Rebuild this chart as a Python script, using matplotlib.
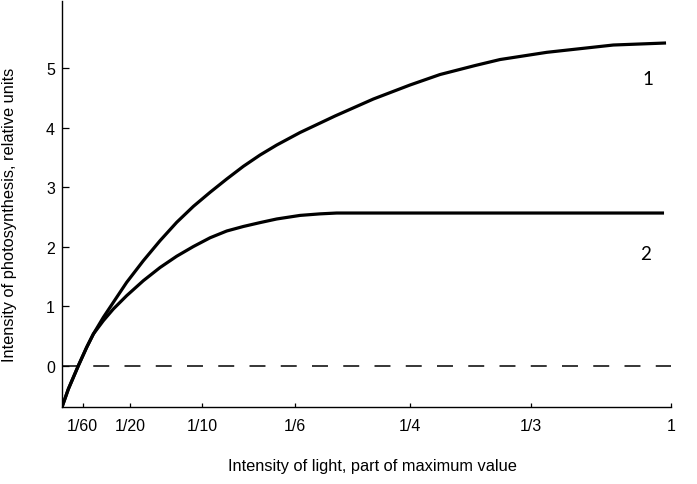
import matplotlib
matplotlib.use("Agg")
import matplotlib.pyplot as plt

# tick labels along the light-intensity axis and where they sit (axis runs 0..10)
x_tick_labels = ["1/60", "1/20", "1/10", "1/6", "1/4", "1/3", "1"]
x_tick_pos = [0.34, 1.12, 2.30, 3.82, 5.72, 7.71, 10.0]
y_ticks = [0, 1, 2, 3, 4, 5]

# curve 1
curve1_x = [0.00, 0.104, 0.268, 0.405, 0.515, 0.679, 0.843, 1.062, 1.336, 1.610,
            1.884, 2.158, 2.432, 2.706, 2.979, 3.253, 3.527, 3.910, 4.485, 5.114,
            5.717, 6.210, 6.785, 7.196, 7.963, 9.057, 9.923]
curve1_y = [-0.694, -0.392, 0.000, 0.309, 0.533, 0.813, 1.065, 1.401, 1.765, 2.101,
            2.410, 2.678, 2.914, 3.138, 3.351, 3.541, 3.709, 3.919, 4.197, 4.482,
            4.718, 4.894, 5.045, 5.146, 5.267, 5.390, 5.424]

# curve 2
curve2_x = [0.00, 0.104, 0.268, 0.405, 0.515, 0.679, 0.843, 1.062, 1.336, 1.610,
            1.884, 2.158, 2.432, 2.706, 2.979, 3.253, 3.527, 3.910, 4.239, 4.513, 9.890]
curve2_y = [-0.694, -0.392, 0.000, 0.309, 0.533, 0.757, 0.953, 1.177, 1.429, 1.650,
            1.840, 2.003, 2.150, 2.264, 2.340, 2.405, 2.466, 2.526, 2.552, 2.566, 2.566]

plt.rcParams['font.family'] = ['Liberation Sans', 'DejaVu Sans']
plt.rcParams['lines.scale_dashes'] = False

fig = plt.figure(figsize=(6.97, 4.85), dpi=100)
ax = fig.add_axes([0.0890, 0.1588, 0.8733, 0.8371])

ax.plot(curve1_x, curve1_y, color="black", lw=2.3, solid_capstyle="butt",
        solid_joinstyle="round")
ax.plot(curve2_x, curve2_y, color="black", lw=2.3, solid_capstyle="butt",
        solid_joinstyle="round")
zero_line, = ax.plot([0, 10], [0, 0], color="black", lw=1.1)
zero_line.set_dashes([11.5, 11.0])

ax.text(9.63, 4.82, "1", family="Lato", fontsize=13.5, ha="center", va="center")
ax.text(9.58, 1.89, "2", family="Lato", fontsize=13.5, ha="center", va="center")

ax.set_xlim(0, 10)
ax.set_ylim(-0.694, 6.13)
ax.set_xticks(x_tick_pos)
ax.set_xticklabels(x_tick_labels)
ax.set_yticks(y_ticks)

for side in ["top", "right"]:
    ax.spines[side].set_visible(False)
for side in ["left", "bottom"]:
    ax.spines[side].set_linewidth(1.0)

ax.tick_params(axis="x", direction="in", length=3.2, width=0.9, pad=8, labelsize=11.5)
ax.tick_params(axis="y", direction="in", length=4.8, width=0.9, pad=5, labelsize=11.5)

fig.text(0.534, 0.039, "Intensity of light, part of maximum value", fontsize=11.8,
         ha="center", va="center")
fig.text(0.014, 0.557, "Intensity of photosynthesis, relative units", fontsize=11.8,
         ha="center", va="center", rotation=90)

fig.savefig("out.png", dpi=100)
